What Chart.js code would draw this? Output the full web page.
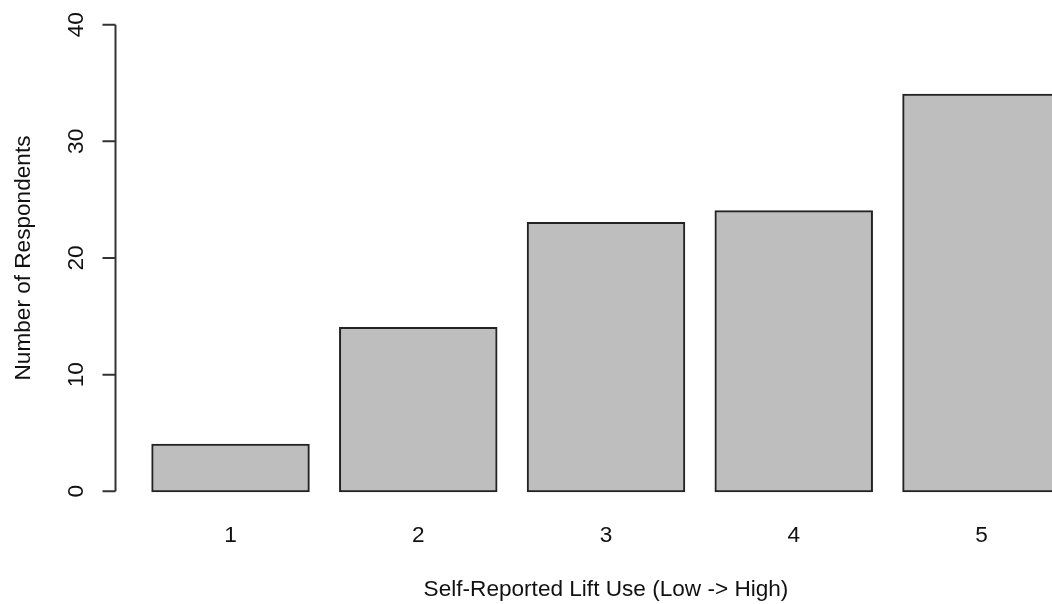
<!DOCTYPE html>
<html>
<head>
<meta charset="utf-8">
<script src="https://cdn.jsdelivr.net/npm/chart.js@4"></script>
<style>
  html, body { margin: 0; padding: 0; background: #fff; }
  #wrap { width: 1052px; height: 604px; overflow: hidden; position: relative; }
  #chart { display: block; }
</style>
</head>
<body>
<div id="wrap"><canvas id="chart" width="1100" height="604"></canvas></div>
<script>
// data
const categories = ['1', '2', '3', '4', '5'];
const respondents = [4, 14, 23, 24, 34];
const yTicks = [0, 10, 20, 30, 40];
const xTitle = 'Self-Reported Lift Use (Low -> High)';
const yTitle = 'Number of Respondents';

// R barplot layout: width 1, space 0.2, axes extended 4%
const barW = 1, gap = 0.2;
const slots = categories.map((c, i) => gap + i * (barW + gap) + barW / 2);
const xLo = gap, xHi = categories.length * (barW + gap);
const xPad = (xHi - xLo) * 0.04;
const yPad = (yTicks[yTicks.length - 1] - yTicks[0]) * 0.04;

const FONT = '22.6px "Liberation Sans", Arial, sans-serif';
const INK = '#111';

const rAxes = {
  id: 'rAxes',
  afterDraw(chart) {
    const { ctx, chartArea } = chart;
    const xs = chart.scales.x, ys = chart.scales.y;
    const ax = chartArea.left - 0.5;
    const y0 = ys.getPixelForValue(yTicks[0]);
    const y1 = ys.getPixelForValue(yTicks[yTicks.length - 1]);

    ctx.save();
    ctx.strokeStyle = '#333';
    ctx.lineWidth = 2;
    ctx.beginPath();
    ctx.moveTo(ax, y0);
    ctx.lineTo(ax, y1);
    ys.ticks.forEach(t => {
      const py = ys.getPixelForValue(t.value);
      ctx.moveTo(ax - 13, py);
      ctx.lineTo(ax, py);
    });
    ctx.stroke();

    ctx.fillStyle = INK;
    ctx.font = FONT;
    ctx.textAlign = 'center';
    ctx.textBaseline = 'alphabetic';

    // y tick labels, rotated like R (las = 0)
    ys.ticks.forEach(t => {
      const py = ys.getPixelForValue(t.value);
      ctx.save();
      ctx.translate(83, py);
      ctx.rotate(-Math.PI / 2);
      ctx.fillText(String(t.value), 0, 0);
      ctx.restore();
    });

    // x category labels
    xs.ticks.forEach((t, i) => {
      ctx.fillText(categories[i], xs.getPixelForValue(t.value), 542);
    });

    // titles
    ctx.fillText(xTitle, (chartArea.left + chartArea.right) / 2, 596);
    ctx.save();
    ctx.translate(30, (chartArea.top + chartArea.bottom) / 2);
    ctx.rotate(-Math.PI / 2);
    ctx.fillText(yTitle, 0, 0);
    ctx.restore();
    ctx.restore();
  }
};

new Chart(document.getElementById('chart'), {
  type: 'bar',
  data: {
    datasets: [{
      data: respondents.map((v, i) => ({ x: slots[i], y: v })),
      backgroundColor: '#bebebe',
      borderColor: '#222',
      borderWidth: 2,
      borderSkipped: false,
      inflateAmount: 1,
      barPercentage: barW / (barW + gap),
      categoryPercentage: 1
    }]
  },
  options: {
    responsive: false,
    animation: false,
    devicePixelRatio: 1,
    layout: { padding: { left: 116, right: 4, top: 6, bottom: 94 } },
    plugins: { legend: { display: false }, tooltip: { enabled: false } },
    scales: {
      x: {
        type: 'linear',
        display: false,
        offset: false,
        min: xLo - xPad,
        max: xHi + xPad,
        afterBuildTicks: s => { s.ticks = slots.map(v => ({ value: v })); }
      },
      y: {
        display: false,
        min: yTicks[0] - yPad,
        max: yTicks[yTicks.length - 1] + yPad,
        afterBuildTicks: s => { s.ticks = yTicks.map(v => ({ value: v })); }
      }
    }
  },
  plugins: [rAxes]
});
</script>
</body>
</html>
